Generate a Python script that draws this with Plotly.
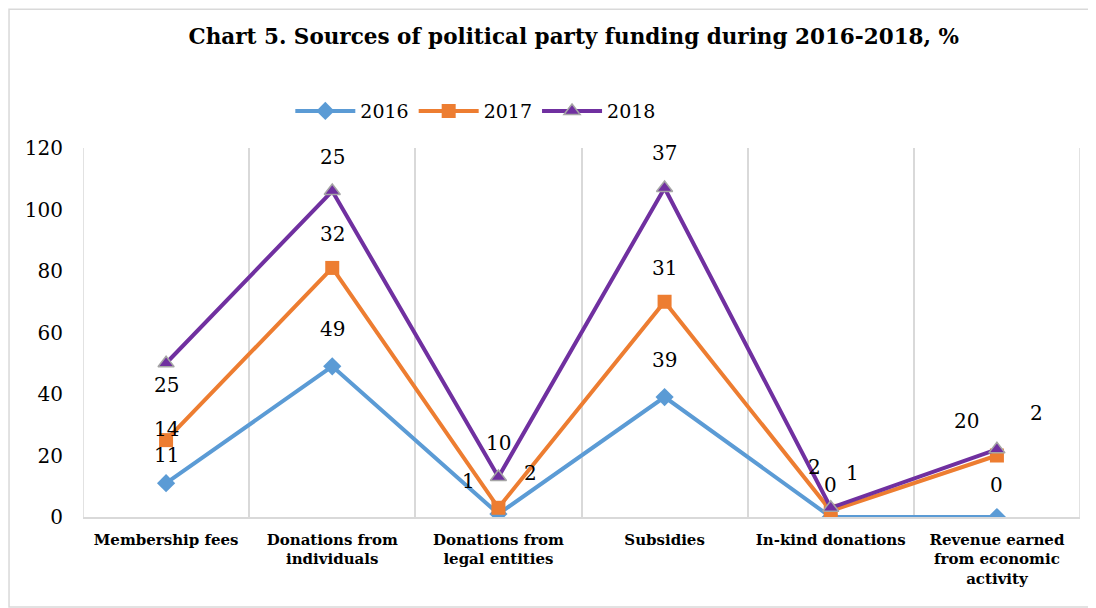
import plotly.graph_objects as go

categories = ["Membership fees", "Donations from<br>individuals", "Donations from<br>legal entities",
              "Subsidies", "In-kind donations", "Revenue earned<br>from economic<br>activity"]
years = ["2016", "2017", "2018"]
v2016 = [11, 49, 1, 39, 0, 0]
v2017 = [14, 32, 2, 31, 2, 20]
v2018 = [25, 25, 10, 37, 1, 2]
y_ticks = [0, 20, 40, 60, 80, 100, 120]

series = [v2016, v2017, v2018]
colors = ["#5B9BD5", "#ED7D31", "#7030A0"]
symbols = ["diamond", "square", "triangle-up"]
mline = [dict(width=0), dict(width=0), dict(width=1.5, color="#A5A5A5")]

# label offsets (pixels) per series per category: (xshift, yshift)
shifts = [
    [(0, 28), (0, 37), (-30, 33), (0, 37), (0, 32), (0, 32)],
    [(0, 11), (0, 34), (32, 35), (0, 34), (-16, 44), (-30, 35)],
    [(0, -22), (0, 34), (0, 34), (0, 35), (22, 35), (40, 36)],
]

FONT = "DejaVu Serif"
xs = list(range(len(categories)))
fig = go.Figure()
cum = [0] * len(categories)
annotations = []
for i, (name, vals) in enumerate(zip(years, series)):
    cum = [c + v for c, v in zip(cum, vals)]
    fig.add_trace(go.Scatter(
        x=xs, y=cum, name=name, mode="lines+markers",
        line=dict(color=colors[i], width=4),
        marker=dict(symbol=symbols[i], size=14, color=colors[i], line=mline[i]),
    ))
    for j, (xv, yv, lab) in enumerate(zip(xs, cum, vals)):
        dx, dy = shifts[i][j]
        annotations.append(dict(x=xv, y=yv, xref="x", yref="y", text=str(lab),
                                showarrow=False, xshift=dx, yshift=dy,
                                font=dict(family=FONT, size=20, color="#000000")))

GRID = "#D9D9D9"
shapes = [dict(type="rect", xref="paper", yref="paper", x0=-0.0742, x1=1.014,
               y0=-0.244, y1=1.376, line=dict(color=GRID, width=1.5))]
for xe in (-0.5, 5.5):
    shapes.append(dict(type="line", xref="x", yref="paper", x0=xe, x1=xe, y0=0, y1=1,
                       line=dict(color=GRID, width=1.5)))

fig.update_layout(
    width=1088, height=600,
    paper_bgcolor="white", plot_bgcolor="white",
    margin=dict(l=75, r=16, t=140, b=91),
    title=dict(text="<b>Chart 5. Sources of political party funding during 2016-2018, %</b>",
               x=0.520, xanchor="center", y=0.952, yanchor="middle",
               font=dict(family=FONT, size=21.5, color="#000000")),
    legend=dict(orientation="h", x=0.394, xanchor="center", y=1.10, yanchor="middle",
                font=dict(family=FONT, size=19, color="#000000"), itemwidth=60),
    showlegend=True,
    annotations=annotations,
    shapes=shapes,
)
fig.update_xaxes(range=[-0.5, 5.5], tickmode="array", tickvals=xs, ticktext=["<b>%s</b>" % c for c in categories],
                 showgrid=False, showline=True, linecolor=GRID, linewidth=1.5, zeroline=False,
                 tickfont=dict(family=FONT, size=15, color="#000000"), ticks="", ticklabelstandoff=8,
                 minor=dict(tick0=-0.5, dtick=1, showgrid=True, gridcolor=GRID, gridwidth=1.5))
fig.update_yaxes(range=[0, 120], tickmode="array", tickvals=y_ticks, showgrid=False, zeroline=False,
                 showline=False, ticks="", ticklabelstandoff=19,
                 tickfont=dict(family=FONT, size=20, color="#000000"))
fig.write_html("out.html")
